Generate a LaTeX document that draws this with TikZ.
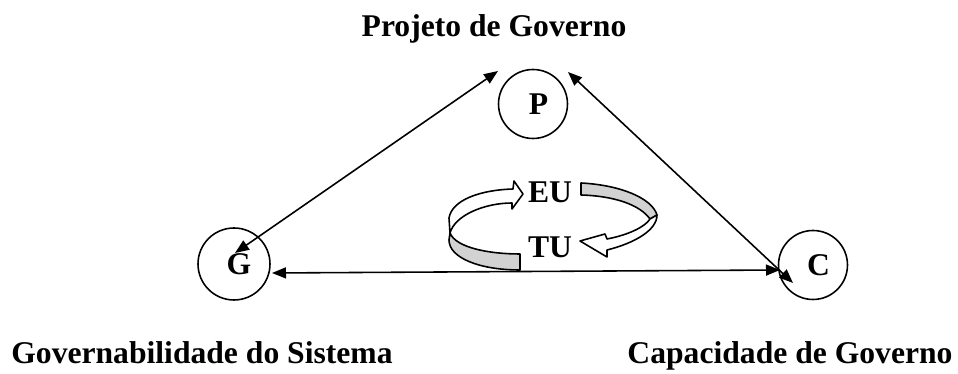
\documentclass[tikz,border=0pt]{standalone}
\usepackage{fontspec}
\setmainfont{Liberation Serif}
\usetikzlibrary{arrows.meta, calc}

\begin{document}
\begin{tikzpicture}[x=0.02cm, y=-0.02cm]

    % Define styles
    \tikzset{
        label/.style = {font=\fontsize{18}{20}\selectfont\bfseries, inner sep=0pt, anchor=base},
        vertex/.style = {circle, draw=black, line width=0.9pt, minimum size=1.38cm, inner sep=0pt, font=\fontsize{18}{20}\selectfont\bfseries},
        arrow/.style = {line width=0.9pt, {Triangle[length=0.28cm, width=0.22cm]}-{Triangle[length=0.28cm, width=0.22cm]}},
        ribbon/.style = {draw=black, line width=0.9pt, line join=round}
    }

    \useasboundingbox (0,0) rectangle (958,374);

    % Nodes
    \node (proj) [label] at (494,37) {Projeto de Governo};
    \node (gov) [label] at (202,364) {Governabilidade do Sistema};
    \node (cap) [label] at (790,364) {Capacidade de Governo};
    \node (P) [vertex] at (533,104) {\kern0.22cm P};
    \node (G) [vertex, minimum size=1.44cm] at (234,264) {\kern0.2cm G};
    \node (C) [vertex] at (813,265) {\kern0.22cm C};
    \node (eu) [label] at (550,203) {EU};
    \node (tu) [label] at (550,258) {TU};

    % Arrows
    \draw [arrow] ($(G)+(1,-11)$) -- ($(P)+(-35,-33)$);
    \draw [arrow] ($(P)+(35,-32)$) -- ($(C)+(-20,18)$);
    \draw [arrow] ($(G)+(38,9)$) -- ($(C)+(-33,5)$);

    % Circular arrow
    \filldraw [ribbon, fill=gray!35] (450,233) .. controls (456,248) and (490,254) .. (520,254)
        -- (520,270) .. controls (480,270) and (449,258) .. (449,240) -- cycle;
    \filldraw [ribbon, fill=white] (449,218) .. controls (452,200) and (480,190) .. (513,189)
        -- (514,181) -- (523,194) -- (512,209) -- (512,203)
        .. controls (485,203) and (455,215) .. (450,233) -- cycle;
    \filldraw [ribbon, fill=gray!35] (581,183) .. controls (620,185) and (652,198) .. (657,215)
        -- (650,219) .. controls (640,205) and (615,196) .. (581,195) -- cycle;
    \filldraw [ribbon, fill=white] (657,215) .. controls (657,230) and (635,243) .. (607,250)
        -- (607,257) -- (580,241) -- (605,234) -- (607,239)
        .. controls (628,235) and (645,227) .. (650,219) -- cycle;

\end{tikzpicture}
\end{document}
